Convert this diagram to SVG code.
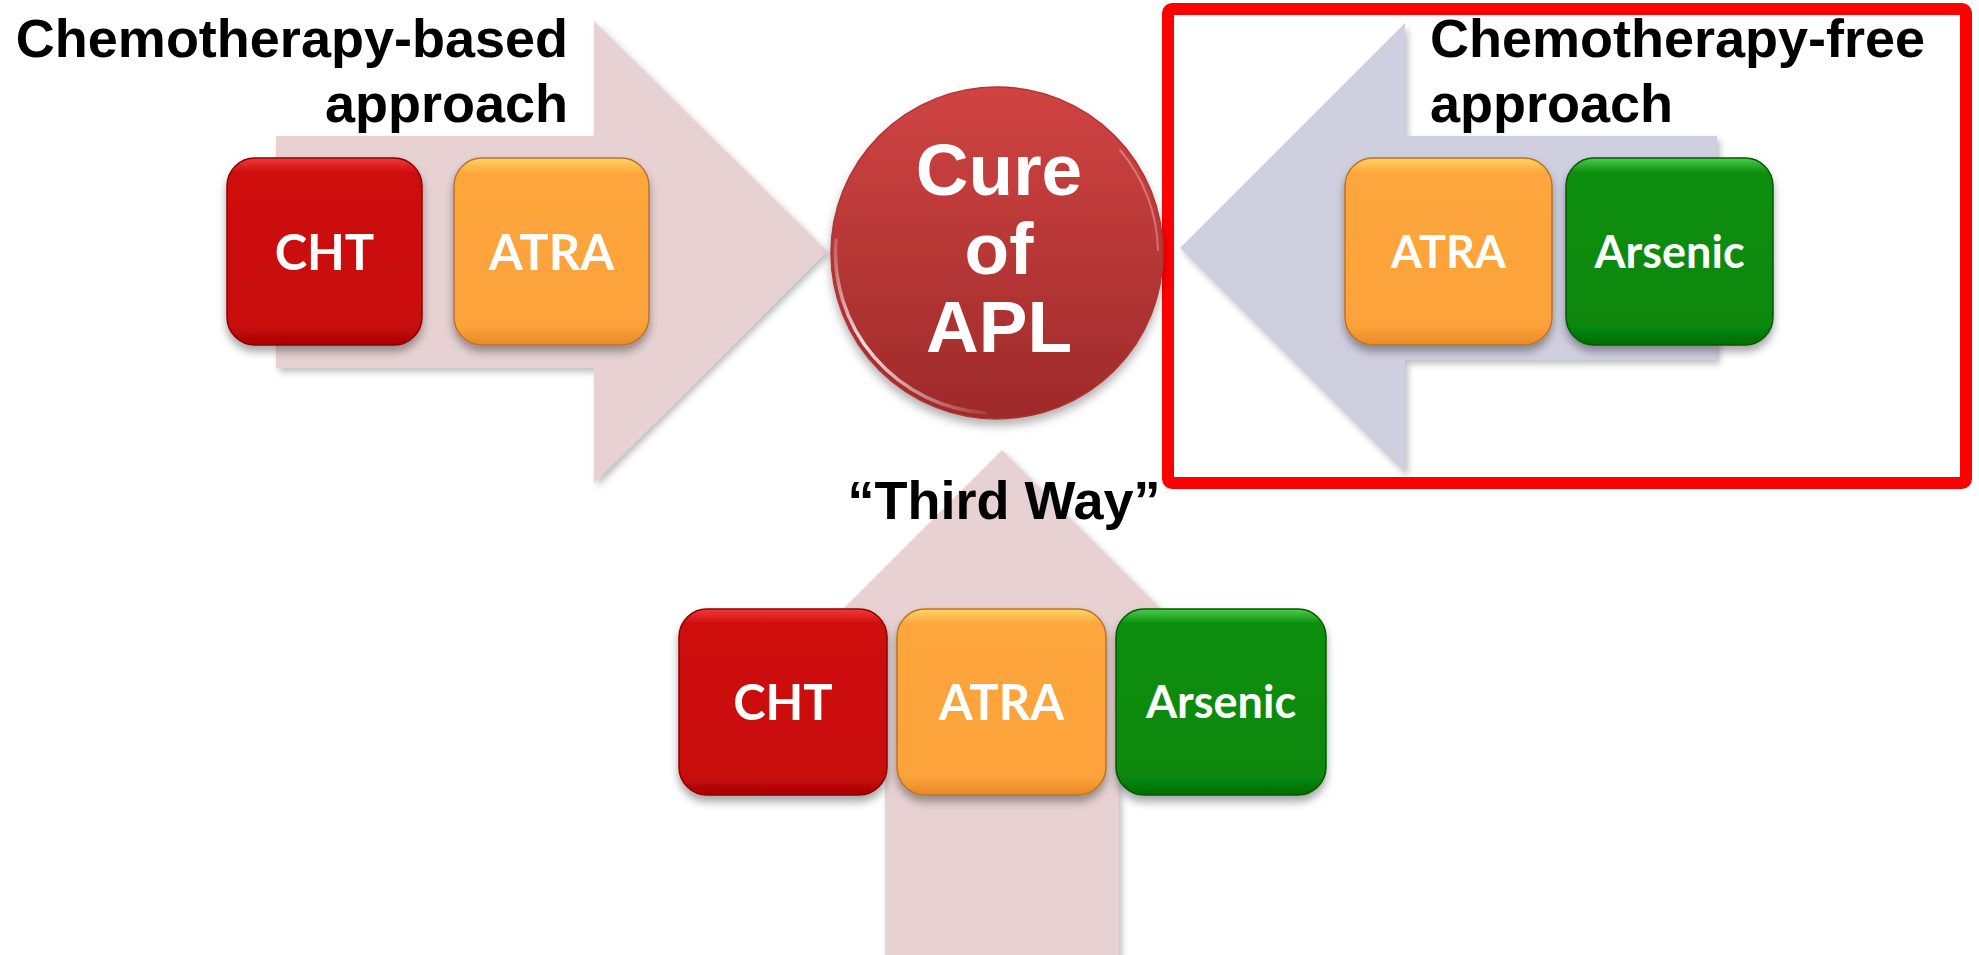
<svg xmlns="http://www.w3.org/2000/svg" width="1979" height="955" viewBox="0 0 1979 955">
  <defs>
    <filter id="arrowShadow" x="-10%" y="-10%" width="125%" height="125%">
      <feDropShadow dx="3" dy="4" stdDeviation="3" flood-color="#000" flood-opacity="0.25"/>
    </filter>
    <filter id="boxShadow" x="-10%" y="-10%" width="125%" height="130%">
      <feDropShadow dx="0" dy="6" stdDeviation="4" flood-color="#000" flood-opacity="0.35"/>
    </filter>
    <linearGradient id="gRed" x1="0" y1="0" x2="0" y2="1">
      <stop offset="0" stop-color="#f03a3a"/>
      <stop offset="0.08" stop-color="#cf0c0c"/>
      <stop offset="0.9" stop-color="#c80808"/>
      <stop offset="1" stop-color="#a80505"/>
    </linearGradient>
    <linearGradient id="gOrange" x1="0" y1="0" x2="0" y2="1">
      <stop offset="0" stop-color="#ffd565"/>
      <stop offset="0.08" stop-color="#fda63c"/>
      <stop offset="0.9" stop-color="#fca23a"/>
      <stop offset="1" stop-color="#e88a28"/>
    </linearGradient>
    <linearGradient id="gGreen" x1="0" y1="0" x2="0" y2="1">
      <stop offset="0" stop-color="#4ccc4c"/>
      <stop offset="0.08" stop-color="#0a8e0c"/>
      <stop offset="0.9" stop-color="#078808"/>
      <stop offset="1" stop-color="#056c06"/>
    </linearGradient>
    <linearGradient id="gBall" x1="0" y1="0" x2="0" y2="1">
      <stop offset="0" stop-color="#d04442"/>
      <stop offset="1" stop-color="#9e2a2a"/>
    </linearGradient>
    <linearGradient id="gGlint" x1="0" y1="0" x2="1" y2="1">
      <stop offset="0" stop-color="#fff" stop-opacity="0.2"/>
      <stop offset="0.4" stop-color="#fff" stop-opacity="0.85"/>
      <stop offset="1" stop-color="#fff" stop-opacity="0.1"/>
    </linearGradient>
    <filter id="ballShadow" x="-15%" y="-15%" width="130%" height="135%">
      <feDropShadow dx="0" dy="6" stdDeviation="5" flood-color="#000" flood-opacity="0.3"/>
    </filter>
  </defs>
  <style>
    .box { stroke-width: 1.5; filter: url(#boxShadow); }
    .red { fill: url(#gRed); stroke: #8a0606; }
    .orange { fill: url(#gOrange); stroke: #b8742a; }
    .green { fill: url(#gGreen); stroke: #045a05; }
    .lbl { font-family: Lato, "Open Sans", sans-serif; font-weight: 700; fill: #fff; text-anchor: middle; dominant-baseline: central; }
    .big { font-size: 49px; }
    .small { font-size: 45px; }
    .head { font-family: "Liberation Sans", Arial, sans-serif; font-weight: 700; font-size: 54px; fill: #000; }
    .ball { font-family: "Liberation Sans", Arial, sans-serif; font-weight: 700; font-size: 73px; fill: #fff; text-anchor: middle; }
  </style>

  <rect width="1979" height="955" fill="#fff"/>

  <!-- connectors: broad block arrows feeding the central goal -->
  <g id="connectors">
    <polygon id="arrow-left" points="276,136 594,136 594,21 827,251 594,483 594,368 276,368" fill="#e7d1d2" filter="url(#arrowShadow)"/>
    <polygon id="arrow-right" points="1717,136 1405,136 1405,23 1180,248 1405,473 1405,360 1717,360" fill="#cfcfe0" filter="url(#arrowShadow)"/>
    <polygon id="arrow-bottom" points="1002,450 1232,680 1119,680 1119,960 885,960 885,680 772,680" fill="#e7d1d2" filter="url(#arrowShadow)"/>
  </g>

  <!-- highlight frame around the chemotherapy-free route -->
  <rect id="highlight-frame" x="1168" y="9" width="798" height="474" rx="4" fill="none" stroke="#ff0000" stroke-width="12"/>

  <!-- route titles -->
  <g id="title-chemo-based">
    <text class="head" x="568" y="57" text-anchor="end">Chemotherapy-based</text>
    <text class="head" x="568" y="122" text-anchor="end">approach</text>
  </g>
  <g id="title-chemo-free">
    <text class="head" x="1430" y="57">Chemotherapy-free</text>
    <text class="head" x="1430" y="122">approach</text>
  </g>
  <g id="title-third-way">
    <text class="head" x="1004" y="519" text-anchor="middle">“Third Way”</text>
  </g>

  <!-- central goal -->
  <g id="cure-of-apl">
    <circle cx="997" cy="253" r="166" fill="url(#gBall)" stroke="#b03434" stroke-width="1.5" filter="url(#ballShadow)"/>
    <path d="M 836,240 A 161 161 0 0 0 985,413" fill="none" stroke="url(#gGlint)" stroke-width="3.5" stroke-linecap="round"/>
    <path d="M 1120,150 A 161 161 0 0 1 1158,250" fill="none" stroke="#fff" stroke-opacity="0.3" stroke-width="2" stroke-linecap="round"/>
    <text class="ball" x="999" y="195">Cure</text>
    <text class="ball" x="999" y="274">of</text>
    <text class="ball" x="999" y="352">APL</text>
  </g>

  <!-- chemotherapy-based route -->
  <g id="left-cht">
    <rect class="box red" x="227" y="158" width="195" height="187" rx="28"/>
    <text class="lbl big" x="324.5" y="251">CHT</text>
  </g>
  <g id="left-atra">
    <rect class="box orange" x="454" y="158" width="195" height="187" rx="28"/>
    <text class="lbl big" x="551.5" y="251">ATRA</text>
  </g>

  <!-- chemotherapy-free route -->
  <g id="right-atra">
    <rect class="box orange" x="1345" y="158" width="207" height="187" rx="28"/>
    <text class="lbl small" x="1448.5" y="251">ATRA</text>
  </g>
  <g id="right-arsenic">
    <rect class="box green" x="1566" y="158" width="207" height="187" rx="28"/>
    <text class="lbl small" x="1669.5" y="251">Arsenic</text>
  </g>

  <!-- combined route -->
  <g id="third-cht">
    <rect class="box red" x="679" y="609" width="208" height="186" rx="28"/>
    <text class="lbl big" x="783" y="701">CHT</text>
  </g>
  <g id="third-atra">
    <rect class="box orange" x="897" y="609" width="209" height="186" rx="28"/>
    <text class="lbl big" x="1001.5" y="701">ATRA</text>
  </g>
  <g id="third-arsenic">
    <rect class="box green" x="1116" y="609" width="210" height="186" rx="28"/>
    <text class="lbl small" x="1221" y="701">Arsenic</text>
  </g>
</svg>
